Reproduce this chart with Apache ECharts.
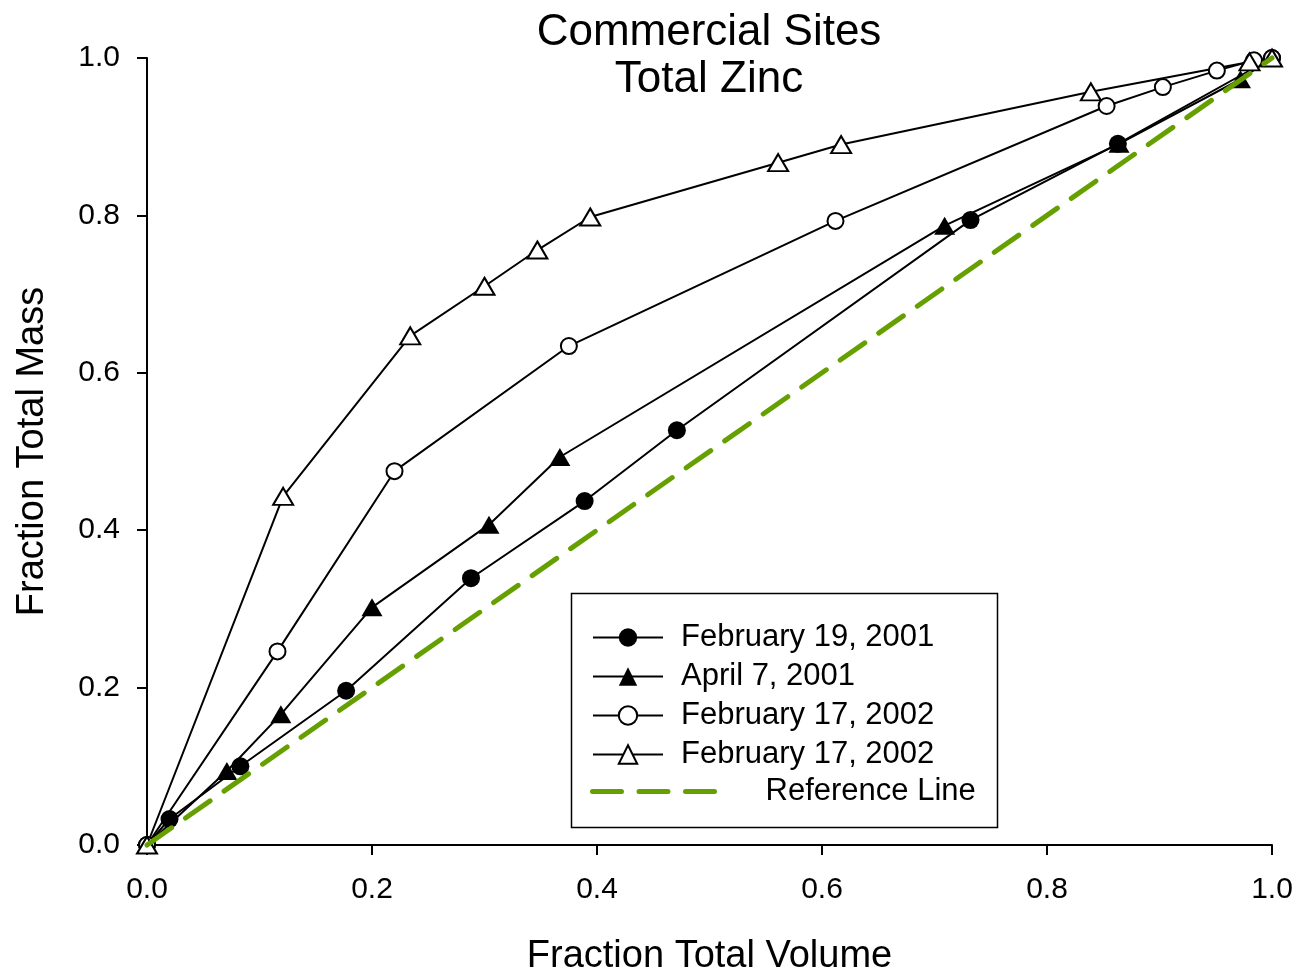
<!DOCTYPE html>
<html>
<head>
<meta charset="utf-8">
<script src="https://cdn.jsdelivr.net/npm/echarts@6/dist/echarts.min.js"></script>
<style>
  html, body { margin: 0; padding: 0; background: #fff; }
  #chart { width: 1299px; height: 974px; }
</style>
</head>
<body>
<div id="chart"></div>
<script>
// Cumulative mass vs. cumulative runoff volume, total zinc at commercial sites
const seriesNames = ['February 19, 2001', 'April 7, 2001', 'February 17, 2002', 'February 17, 2002 '];
const refName = 'Reference Line';

const volFeb2001 = [0, 0.020, 0.083, 0.177, 0.288, 0.389, 0.471, 0.732, 0.863, 1.0];
const massFeb2001 = [0, 0.033, 0.100, 0.196, 0.339, 0.437, 0.527, 0.794, 0.891, 1.0];

const volApr2001 = [0, 0.071, 0.119, 0.200, 0.304, 0.367, 0.709, 0.864, 0.972, 1.0];
const massApr2001 = [0, 0.094, 0.166, 0.302, 0.407, 0.493, 0.787, 0.891, 0.973, 1.0];

const volFeb2002a = [0, 0.116, 0.220, 0.375, 0.612, 0.853, 0.903, 0.951, 0.984, 1.0];
const massFeb2002a = [0, 0.246, 0.475, 0.634, 0.793, 0.939, 0.963, 0.984, 0.997, 1.0];

const volFeb2002b = [0, 0.121, 0.234, 0.300, 0.347, 0.394, 0.561, 0.617, 0.839, 0.980, 1.0];
const massFeb2002b = [0, 0.443, 0.647, 0.710, 0.756, 0.798, 0.867, 0.890, 0.957, 0.995, 1.0];

const refVol = [0, 1];
const refMass = [0, 1];

const tickValues = [0, 0.2, 0.4, 0.6, 0.8, 1.0];

const FONT = '"Liberation Sans", Arial, Helvetica, sans-serif';
const BLACK = '#000';
const GREEN = '#66a000';

const pairs = (xs, ys) => xs.map((x, i) => [x, ys[i]]);

// three rounded dashes for the reference line's legend key
const dash = (x0) => `M${x0 + 2.5},0 h29 a2.5,2.5 0 0 1 0,5 h-29 a2.5,2.5 0 0 1 0,-5 z`;
const DASH_ICON = 'path://' + dash(0) + ' ' + dash(46.5) + ' ' + dash(93);

function axisCommon(name, nameGap, rotate, labelMargin) {
  return {
    type: 'value',
    min: tickValues[0],
    max: tickValues[tickValues.length - 1],
    interval: 0.2,
    name: name,
    nameLocation: 'middle',
    nameGap: nameGap,
    nameRotate: rotate,
    nameTextStyle: { fontFamily: FONT, fontSize: 38, color: BLACK },
    axisLine: { show: true, onZero: false, lineStyle: { color: BLACK, width: 2 } },
    axisTick: { show: true, inside: false, length: 10, lineStyle: { color: BLACK, width: 2 } },
    splitLine: { show: false },
    axisLabel: {
      fontFamily: FONT, fontSize: 30, color: BLACK, margin: labelMargin,
      formatter: (v) => v.toFixed(1)
    }
  };
}

const lineBase = {
  type: 'line',
  clip: false,
  animation: false,
  emphasis: { disabled: true },
  lineStyle: { color: BLACK, width: 2 }
};

const chart = echarts.init(document.getElementById('chart'), null, { renderer: 'canvas' });

chart.setOption({
  backgroundColor: '#fff',
  animation: false,
  title: {
    text: 'Commercial Sites\nTotal Zinc',
    left: 709,
    top: 9,
    padding: 0,
    textAlign: 'center',
    textStyle: { fontFamily: FONT, fontSize: 44, fontWeight: 'normal', lineHeight: 47, color: BLACK }
  },
  grid: { left: 147, right: 27, top: 58, bottom: 129, containLabel: false, outerBoundsMode: 'none' },
  xAxis: axisCommon('Fraction Total Volume', 93, 0, 30),
  yAxis: axisCommon('Fraction Total Mass', 95, 90, 27),
  legend: [
    {
      data: seriesNames,
      orient: 'vertical',
      left: 592,
      top: 622,
      padding: 0,
      itemWidth: 70,
      itemHeight: 23,
      itemGap: 8,
      selectedMode: false,
      formatter: (n) => n.trim(),
      textStyle: { fontFamily: FONT, fontSize: 31, lineHeight: 31, color: BLACK, padding: [0, 0, 0, 13] }
    },
    {
      data: [{ name: refName, icon: DASH_ICON }],
      orient: 'vertical',
      left: 590,
      top: 776,
      padding: 0,
      itemWidth: 128,
      itemHeight: 5,
      selectedMode: false,
      textStyle: { fontFamily: FONT, fontSize: 31, lineHeight: 31, color: BLACK, padding: [0, 0, 0, 43] }
    }
  ],
  graphic: [
    {
      type: 'rect',
      shape: { x: 571.5, y: 593.5, width: 426, height: 234 },
      style: { fill: 'none', stroke: BLACK, lineWidth: 1.5 },
      z: 1
    }
  ],
  series: [
    Object.assign({}, lineBase, {
      name: seriesNames[0],
      data: pairs(volFeb2001, massFeb2001),
      symbol: 'circle',
      symbolSize: 18,
      itemStyle: { color: BLACK }
    }),
    Object.assign({}, lineBase, {
      name: seriesNames[1],
      data: pairs(volApr2001, massApr2001),
      symbol: 'triangle',
      symbolSize: [21, 18],
      itemStyle: { color: BLACK }
    }),
    Object.assign({}, lineBase, {
      name: seriesNames[2],
      data: pairs(volFeb2002a, massFeb2002a),
      symbol: 'circle',
      symbolSize: 16,
      itemStyle: { color: '#fff', borderColor: BLACK, borderWidth: 2 }
    }),
    Object.assign({}, lineBase, {
      name: seriesNames[3],
      data: pairs(volFeb2002b, massFeb2002b),
      symbol: 'triangle',
      symbolSize: [20, 17],
      itemStyle: { color: '#fff', borderColor: BLACK, borderWidth: 2 }
    }),
    Object.assign({}, lineBase, {
      name: refName,
      data: pairs(refVol, refMass),
      symbol: 'none',
      z: 5,
      itemStyle: { color: GREEN },
      lineStyle: { color: GREEN, width: 5, type: [30, 17], cap: 'round' }
    })
  ]
});
</script>
</body>
</html>
